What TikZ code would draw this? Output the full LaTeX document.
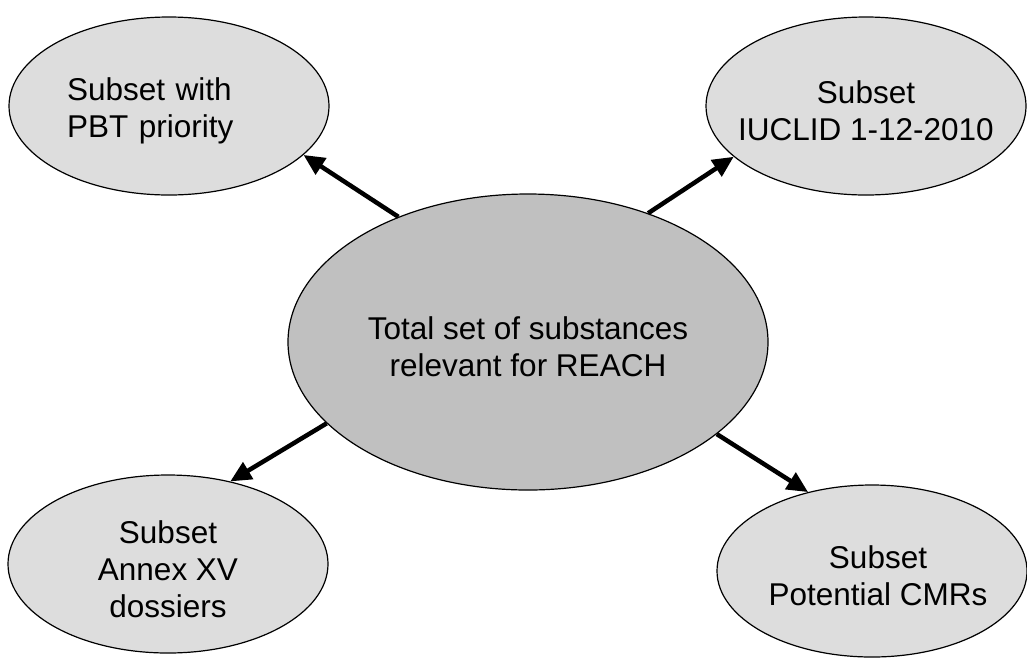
\documentclass[tikz,border=0pt]{standalone}
\usepackage{fontspec}
\setmainfont{Liberation Sans}
\usetikzlibrary{shapes.geometric,arrows.meta}
\definecolor{subsetgray}{HTML}{DDDDDD}
\definecolor{totalgray}{HTML}{C0C0C0}

\begin{document}
\begin{tikzpicture}[x=1pt,y=-1pt,
  blob/.style={ellipse, draw=black, line width=1.2pt, inner sep=0pt},
  subset/.style={blob, fill=subsetgray, minimum width=320pt, minimum height=178pt},
  txt/.style={align=center, inner sep=0pt, yshift=-5pt, font=\fontsize{31.5}{37}\selectfont},
  link/.style={line width=4.5pt, -{Triangle[length=21pt,width=19pt]}}]

\useasboundingbox (0,0) rectangle (1027,657);

%---------------- central set -----------------
\node[blob, fill=totalgray, minimum width=480pt, minimum height=296pt,
      label={[txt]center:{Total set of substances\\ relevant for REACH}}] (total) at (528,342) {};

%---------------- subsets -----------------
\node[subset, label={[txt, align=left, text width=204pt]center:{Subset with\\ PBT priority}}]
      (pbt) at (169,106) {};
\node[subset, label={[txt]center:{Subset\\ IUCLID 1-12-2010}}] (iuclid) at (866,106) {};
\node[subset, label={[txt]center:{Subset\\ Annex XV\\ dossiers}}] (annex) at (168,564) {};
\node[subset, minimum width=310pt, minimum height=172pt,
      label={[txt, xshift=6pt]center:{Subset\\ Potential CMRs}}] (cmr) at (872,571) {};

%---------------- arrows -----------------
\draw[link] (total.136) -- (pbt.-20);
\draw[link] (total.47)  -- (iuclid.201);
\draw[link] (total.202) -- (annex.53);
\draw[link] (total.-26) -- (cmr.129);

\end{tikzpicture}
\end{document}
